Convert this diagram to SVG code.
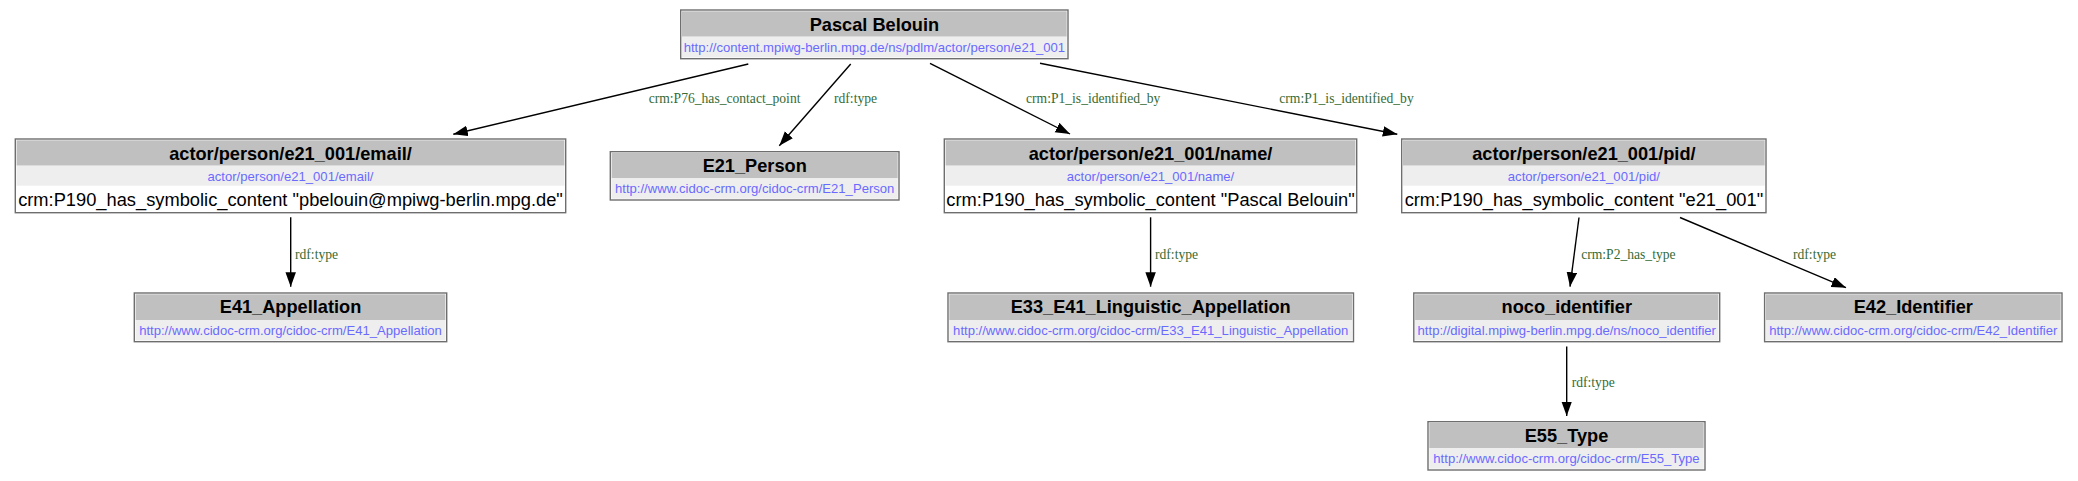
<svg xmlns="http://www.w3.org/2000/svg" width="2078" height="481" viewBox="0 0 2078 481">
<style>
.box{fill:#ffffff;stroke:#6e6e6e;stroke-width:1.4}
.hd{fill:#c0c0c0}
.ur{fill:#eeeeee}
.t{font-family:"Liberation Sans",Arial,sans-serif;font-weight:bold;font-size:18.2px;fill:#000;text-anchor:middle}
.u{font-family:"Liberation Sans",Arial,sans-serif;font-size:13.1px;fill:#6a6aff;text-anchor:middle}
.l{font-family:"Liberation Sans",Arial,sans-serif;font-size:18.3px;fill:#000;text-anchor:middle}
.e{fill:none;stroke:#000;stroke-width:1.4}
.el{font-family:"Liberation Serif","Times New Roman",serif;font-size:13.6px;fill:#356b35}
</style>
<defs>
<marker id="ah" markerUnits="userSpaceOnUse" markerWidth="15" markerHeight="11" refX="14.5" refY="5.25" orient="auto">
<path d="M0,0 L14.5,5.25 L0,10.5 z" fill="#000"/>
</marker>
</defs>
<g id="connectors">
<path class="e" d="M748.3,64 L453.3,134.3" marker-end="url(#ah)"/>
<path class="e" d="M850.7,64 L779.3,145.7" marker-end="url(#ah)"/>
<path class="e" d="M930,63.3 L1070,134" marker-end="url(#ah)"/>
<path class="e" d="M1040,63.3 L1397.3,134.3" marker-end="url(#ah)"/>
<path class="e" d="M290.7,217.3 L290.7,286.7" marker-end="url(#ah)"/>
<path class="e" d="M1150.6,217.3 L1150.6,286.7" marker-end="url(#ah)"/>
<path class="e" d="M1579,217.5 L1570,286.7" marker-end="url(#ah)"/>
<path class="e" d="M1680,217.5 L1846,287.7" marker-end="url(#ah)"/>
<path class="e" d="M1566.7,346.5 L1566.7,416" marker-end="url(#ah)"/>
<text class="el" x="648.7" y="103.3">crm:P76_has_contact_point</text>
<text class="el" x="834" y="103.3">rdf:type</text>
<text class="el" x="1026" y="103.3">crm:P1_is_identified_by</text>
<text class="el" x="1279.3" y="103.3">crm:P1_is_identified_by</text>
<text class="el" x="295" y="258.5">rdf:type</text>
<text class="el" x="1155" y="258.5">rdf:type</text>
<text class="el" x="1581.2" y="258.5">crm:P2_has_type</text>
<text class="el" x="1793" y="258.5">rdf:type</text>
<text class="el" x="1571.7" y="386.5">rdf:type</text>
</g>
<g id="node-pascal">
<rect class="box" x="680.7" y="10" width="387.3" height="48.7"/>
<rect class="hd" x="682" y="11.3" width="384.7" height="25.4"/>
<rect class="ur" x="682" y="36.7" width="384.7" height="20.7"/>
<text class="t" x="874.4" y="30.7">Pascal Belouin</text>
<text class="u" x="874.4" y="51.7">http://content.mpiwg-berlin.mpg.de/ns/pdlm/actor/person/e21_001</text>
</g>
<g id="node-email">
<rect class="box" x="15.3" y="139" width="550.4" height="73.7"/>
<rect class="hd" x="16.6" y="140.3" width="547.8" height="25.4"/>
<rect class="ur" x="16.6" y="165.7" width="547.8" height="20"/>
<text class="t" x="290.5" y="159.5">actor/person/e21_001/email/</text>
<text class="u" x="290.5" y="180.7">actor/person/e21_001/email/</text>
<text class="l" x="290.5" y="205.5">crm:P190_has_symbolic_content "pbelouin@mpiwg-berlin.mpg.de"</text>
</g>
<g id="node-e21">
<rect class="box" x="610.3" y="151.7" width="288.7" height="48.3"/>
<rect class="hd" x="611.6" y="153" width="286.1" height="25.3"/>
<rect class="ur" x="611.6" y="178.3" width="286.1" height="20.4"/>
<text class="t" x="754.7" y="172.2">E21_Person</text>
<text class="u" x="754.7" y="193.2">http://www.cidoc-crm.org/cidoc-crm/E21_Person</text>
</g>
<g id="node-name">
<rect class="box" x="944.3" y="139" width="412.4" height="73.7"/>
<rect class="hd" x="945.6" y="140.3" width="409.8" height="25.4"/>
<rect class="ur" x="945.6" y="165.7" width="409.8" height="20"/>
<text class="t" x="1150.5" y="159.5">actor/person/e21_001/name/</text>
<text class="u" x="1150.5" y="180.7">actor/person/e21_001/name/</text>
<text class="l" x="1150.5" y="205.5">crm:P190_has_symbolic_content "Pascal Belouin"</text>
</g>
<g id="node-pid">
<rect class="box" x="1401.7" y="139" width="364.3" height="73.7"/>
<rect class="hd" x="1403" y="140.3" width="361.7" height="25.4"/>
<rect class="ur" x="1403" y="165.7" width="361.7" height="20"/>
<text class="t" x="1583.9" y="159.5">actor/person/e21_001/pid/</text>
<text class="u" x="1583.9" y="180.7">actor/person/e21_001/pid/</text>
<text class="l" x="1583.9" y="205.5">crm:P190_has_symbolic_content "e21_001"</text>
</g>
<g id="node-e41">
<rect class="box" x="134.3" y="293" width="312.4" height="48.7"/>
<rect class="hd" x="135.6" y="294.3" width="309.8" height="25.7"/>
<rect class="ur" x="135.6" y="320" width="309.8" height="20.4"/>
<text class="t" x="290.5" y="313">E41_Appellation</text>
<text class="u" x="290.5" y="334.5">http://www.cidoc-crm.org/cidoc-crm/E41_Appellation</text>
</g>
<g id="node-e33">
<rect class="box" x="948" y="293" width="405.5" height="48.7"/>
<rect class="hd" x="949.3" y="294.3" width="402.9" height="25.7"/>
<rect class="ur" x="949.3" y="320" width="402.9" height="20.4"/>
<text class="t" x="1150.7" y="313">E33_E41_Linguistic_Appellation</text>
<text class="u" x="1150.7" y="334.5">http://www.cidoc-crm.org/cidoc-crm/E33_E41_Linguistic_Appellation</text>
</g>
<g id="node-noco">
<rect class="box" x="1413.8" y="293" width="305.9" height="48.7"/>
<rect class="hd" x="1415.1" y="294.3" width="303.3" height="25.7"/>
<rect class="ur" x="1415.1" y="320" width="303.3" height="20.4"/>
<text class="t" x="1566.8" y="313">noco_identifier</text>
<text class="u" x="1566.8" y="334.5">http://digital.mpiwg-berlin.mpg.de/ns/noco_identifier</text>
</g>
<g id="node-e42">
<rect class="box" x="1764.6" y="293" width="297.4" height="48.7"/>
<rect class="hd" x="1765.9" y="294.3" width="294.8" height="25.7"/>
<rect class="ur" x="1765.9" y="320" width="294.8" height="20.4"/>
<text class="t" x="1913.3" y="313">E42_Identifier</text>
<text class="u" x="1913.3" y="334.5">http://www.cidoc-crm.org/cidoc-crm/E42_Identifier</text>
</g>
<g id="node-e55">
<rect class="box" x="1428" y="421.7" width="277" height="48.3"/>
<rect class="hd" x="1429.3" y="423" width="274.4" height="25"/>
<rect class="ur" x="1429.3" y="448" width="274.4" height="20.7"/>
<text class="t" x="1566.5" y="441.5">E55_Type</text>
<text class="u" x="1566.5" y="463">http://www.cidoc-crm.org/cidoc-crm/E55_Type</text>
</g>
</svg>
